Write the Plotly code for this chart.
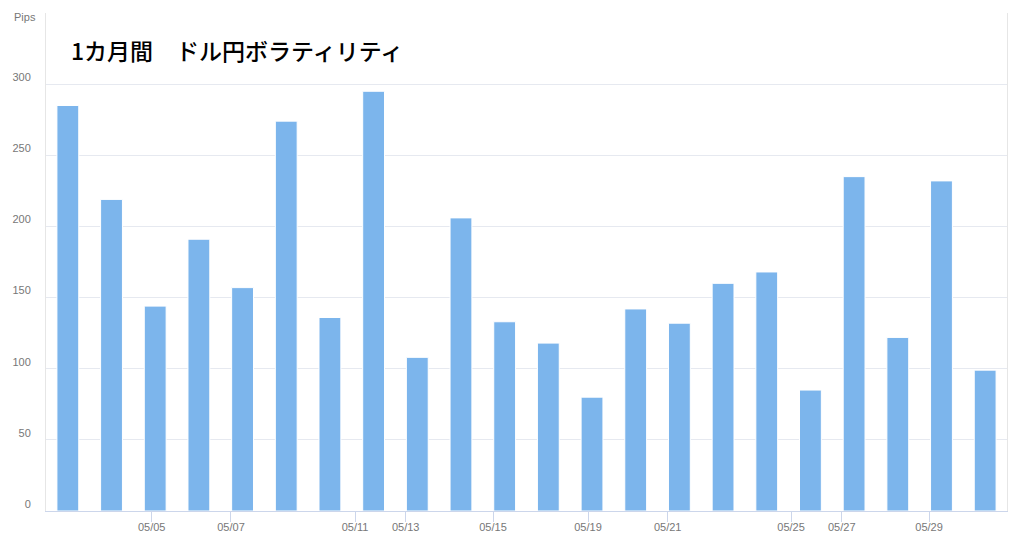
import plotly.graph_objects as go

# daily USD/JPY range in pips, one bar per trading day
bar_index = list(range(22))
pips = [285, 219, 144, 191, 157, 274, 136, 295, 108, 206, 133,
        118, 80, 142, 132, 160, 168, 85, 235, 122, 232, 99]

# date labels of the x axis and where they fall between the bars
tick_labels = ["05/05", "05/07", "05/11", "05/13", "05/15",
               "05/19", "05/21", "05/25", "05/27", "05/29"]
tick_pos = [1.92, 3.735, 6.574, 7.735, 9.733,
            11.908, 13.733, 16.556, 17.717, 19.715]

y_ticks = [0, 50, 100, 150, 200, 250, 300]

fig = go.Figure()
fig.add_trace(go.Bar(
    x=bar_index,
    y=pips,
    width=0.5,
    marker=dict(color="#7cb5ec", line=dict(color="#ffffff", width=1)),
    hoverinfo="y",
))

# the page body adds an 8px margin, so the figure is 16px smaller than the window
fig.update_layout(
    width=1008,
    height=527,
    margin=dict(l=38, r=9, t=5, b=24),
    paper_bgcolor="white",
    plot_bgcolor="white",
    showlegend=False,
    bargap=0.5,
    font=dict(family="Liberation Sans, Arial, sans-serif", size=11, color="#777777"),
    xaxis=dict(
        range=[-0.5, 21.5],
        tickvals=tick_pos,
        ticktext=tick_labels,
        ticks="outside",
        ticklen=10,
        tickcolor="#ccd6eb",
        showgrid=False,
        zeroline=False,
        showline=True,
        linecolor="#ccd6eb",
        linewidth=1,
        automargin=False,
        ticklabelstandoff=-4,
        tickfont=dict(size=11, color="#777777"),
    ),
    yaxis=dict(
        range=[0, 350],
        tickvals=y_ticks,
        showgrid=True,
        gridcolor="#e6e9f0",
        zeroline=False,
        showline=True,
        linecolor="#e6e6e6",
        mirror=True,
        ticks="",
        ticklabelstandoff=12,
        ticklabelshift=-7,
        automargin=False,
        tickfont=dict(size=11, color="#777777"),
    ),
)

fig.add_annotation(
    text="Pips", xref="paper", yref="paper", x=-0.0354, y=0.9926,
    xanchor="left", yanchor="middle", showarrow=False,
    font=dict(size=11, color="#777777"),
)

fig.add_annotation(
    text="1カ月間　ドル円ボラティリティ",
    xref="paper", yref="paper", x=0.024, y=0.926,
    xanchor="left", yanchor="middle", showarrow=False,
    font=dict(family="Noto Sans CJK JP", size=23, color="#000000", weight=500),
)

fig.write_html("out.html")
